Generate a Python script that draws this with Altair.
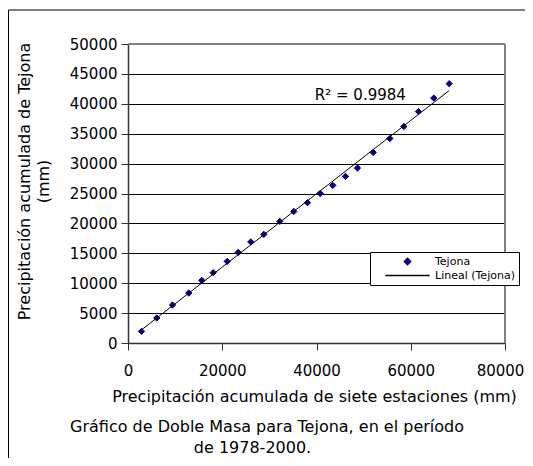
import altair as alt
import pandas as pd

# ---- data ----
anios = list(range(1978, 2001))
precip_siete = [2860, 6110, 9440, 12900, 15660, 18080, 21050, 23380, 26060, 28820,
                32210, 35180, 38090, 40790, 43460, 46150, 48700, 52030, 55560, 58530,
                61640, 64890, 68160]
precip_tejona = [1940, 4180, 6350, 8360, 10470, 11760, 13650, 15150, 16900, 18170,
                 20340, 22000, 23460, 25000, 26360, 27860, 29260, 31870, 34200, 36200,
                 38700, 40950, 43360]
series = ["Tejona", "Lineal (Tejona)"]
x_ticks = [0, 20000, 40000, 60000, 80000]
y_ticks = [0, 5000, 10000, 15000, 20000, 25000, 30000, 35000, 40000, 45000, 50000]
r2_label = ["R² = 0.9984"]
r2_x = [49300]
r2_y = [40700]
x_title = "Precipitación acumulada de siete estaciones (mm)"
y_title = ["Precipitación acumulada de Tejona", "(mm)"]
caption = ["Gráfico de Doble Masa para Tejona, en el período", "de 1978-2000."]

df = pd.DataFrame({"anio": anios, "x": precip_siete, "y": precip_tejona, "serie": series[0]})
df_r2 = pd.DataFrame({"x": r2_x, "y": r2_y, "t": r2_label})
one = pd.DataFrame({"k": [0]})

FONT = "DejaVu Sans"
W, H = 377, 299

xscale = alt.Scale(domain=[0, 80000], nice=False, zero=True)
yscale = alt.Scale(domain=[0, 50000], nice=False, zero=True)

x_enc = alt.X("x:Q", scale=xscale, axis=alt.Axis(
    values=x_ticks, format="d", title=x_title, grid=False,
    tickSize=7, labelPadding=13, labelFontSize=15, labelFont=FONT, labelColor="black",
    labelOffset={"condition": {"test": "datum.value == 80000", "value": -5}, "value": 0},
    titleFont=FONT, titleFontSize=16, titleFontWeight="normal", titleColor="black",
    titleX=186, titleY=58, titleBaseline="alphabetic", titleAnchor="middle", titleAlign="center",
    domainColor="#333333", domainWidth=1.5, tickColor="#333333", tickWidth=1,
    labelFlush=False, labelOverlap=False))

y_enc = alt.Y("y:Q", scale=yscale, axis=alt.Axis(
    values=y_ticks, tickCount=11, format="d", title=y_title, grid=True,
    gridColor="#000000", gridWidth=1,
    tickSize=7, labelPadding=4, labelFontSize=15, labelFont=FONT, labelColor="black",
    titleFont=FONT, titleFontSize=16, titleFontWeight="normal", titleColor="black",
    titleAngle=-90, titleX=-112, titleY=137, titleBaseline="top", titleAlign="center",
    titleLineHeight=19,
    domainColor="#333333", domainWidth=1.5, tickColor="#333333", tickWidth=1,
    labelFlush=False, labelOverlap=False))

leg = alt.Legend(title=None, orient="none", legendX=242, legendY=208,
                 fillColor="white", strokeColor="black", padding=4,
                 labelFont=FONT, labelFontSize=11, labelColor="black",
                 labelExpr="datum.label + '\u00a0\u00a0\u00a0\u00a0\u00a0'",
                 symbolOffset=28, labelOffset=22, rowPadding=1, symbolSize=40)

sym_scale_fill = alt.Scale(domain=series, range=["#000080", "#000000"])
sym_scale_stroke = alt.Scale(domain=series, range=["#000080", "#000000"])
sym_scale_shape = alt.Scale(domain=series, range=["diamond", "M-7,0H7"])

base = alt.Chart(df)

points = base.mark_point(filled=True, size=40, strokeWidth=1, opacity=1).encode(
    x=x_enc, y=y_enc,
    fill=alt.Fill("serie:N", scale=sym_scale_fill, legend=leg),
    stroke=alt.Stroke("serie:N", scale=sym_scale_stroke, legend=leg),
    shape=alt.Shape("serie:N", scale=sym_scale_shape, legend=leg),
)

trend = base.transform_regression("x", "y").mark_line(color="black", strokeWidth=1).encode(
    x=x_enc, y=y_enc)

r2 = alt.Chart(df_r2).mark_text(font=FONT, fontSize=15, color="black", align="center",
                                baseline="alphabetic").encode(
    x=x_enc, y=y_enc, text="t:N")

border_top = alt.Chart(one).mark_rule(color="#808080", strokeWidth=2).encode(
    x=alt.value(0), x2=alt.value(W), y=alt.value(0))
border_right = alt.Chart(one).mark_rule(color="#808080", strokeWidth=2).encode(
    x=alt.value(W), y=alt.value(0), y2=alt.value(H))

frame_left = alt.Chart(one).mark_rule(color="black", strokeWidth=1).encode(
    x=alt.value(-119.5), y=alt.value(-34), y2=alt.value(420))
frame_top = alt.Chart(one).mark_rule(color="black", strokeWidth=1).encode(
    x=alt.value(-119.5), x2=alt.value(420), y=alt.value(-34))

cap1 = alt.Chart(one).mark_text(text=caption[0], font=FONT, fontSize=16, color="black",
                                align="center", baseline="alphabetic").encode(
    x=alt.value(139), y=alt.value(388))
cap2 = alt.Chart(one).mark_text(text=caption[1], font=FONT, fontSize=16, color="black",
                                align="center", baseline="alphabetic").encode(
    x=alt.value(124.5), y=alt.value(409))

chart = alt.layer(points, trend, r2, border_top, border_right, frame_left, frame_top, cap1, cap2).properties(
    width=W, height=H,
    autosize=alt.AutoSizeParams(type="none"),
    padding={"left": 120, "top": 36, "right": 20, "bottom": 115},
).configure_view(stroke=None).configure(background="white")

chart.save("out.html", embed_options={"renderer": "svg", "actions": False})
